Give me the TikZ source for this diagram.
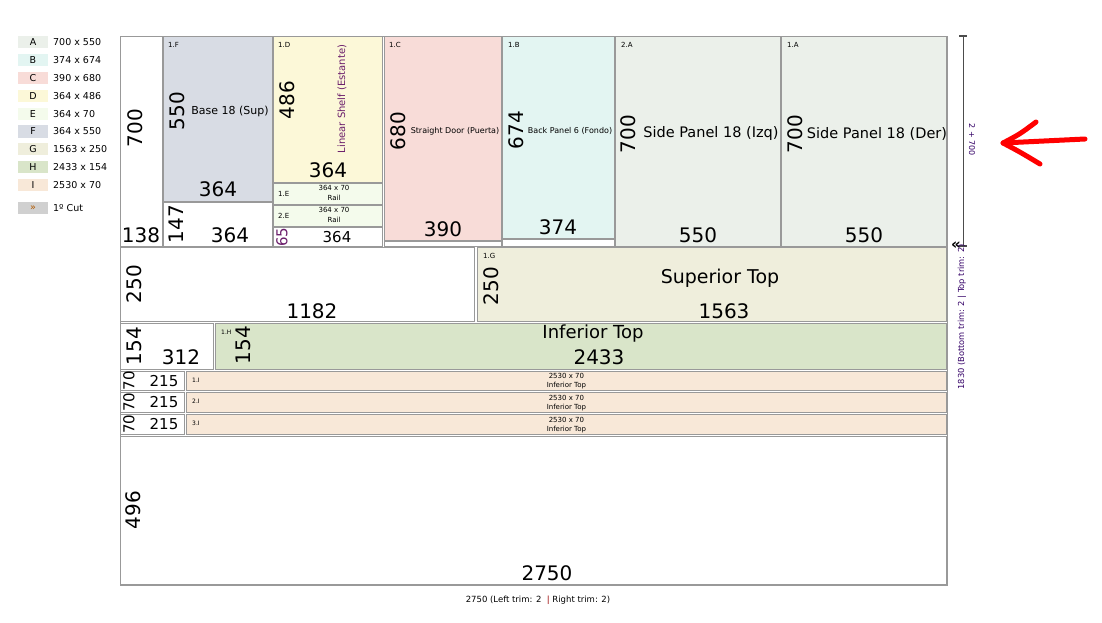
\documentclass[tikz,border=0pt]{standalone}
\usepackage{fontspec}
\setmainfont{DejaVu Sans}
\usepackage{xcolor}
\usetikzlibrary{positioning}

\definecolor{colA}{HTML}{EBF0EA}
\definecolor{colB}{HTML}{E3F5F2}
\definecolor{colC}{HTML}{F8DCD8}
\definecolor{colD}{HTML}{FCF8D8}
\definecolor{colE}{HTML}{F4FBEC}
\definecolor{colF}{HTML}{D8DCE4}
\definecolor{colG}{HTML}{EFEEDC}
\definecolor{colH}{HTML}{D9E5C9}
\definecolor{colI}{HTML}{F8E8D8}
\definecolor{cutgray}{HTML}{D0D0D0}
\definecolor{dimtext}{HTML}{330066}
\definecolor{shelf}{HTML}{6B1E6B}

\newcommand{\fs}[1]{\fontsize{#1}{#1}\selectfont}

\tikzset{
  piece/.style={draw=black!40,line width=0.8pt,anchor=north west,inner sep=0pt,fill=white},
  tag/.style={font=\fs{7},anchor=west,inner sep=0pt},
  big/.style={font=\fs{20},inner sep=0pt},
  mid/.style={font=\fs{15},inner sep=0pt},
  small/.style={font=\fs{7},inner sep=0pt,align=center},
  keybox/.style={minimum width=30pt,minimum height=12pt,inner sep=0pt,font=\fs{9.5}},
  keytext/.style={font=\fs{9.5},anchor=west,inner sep=0pt}
}

\begin{document}
\begin{tikzpicture}[x=1pt,y=-1pt]
  \useasboundingbox (0,0) rectangle (1102,623);

  % legend
  \foreach \l/\c/\t [count=\i] in {A/colA/700 x 550,B/colB/374 x 674,C/colC/390 x 680,
      D/colD/364 x 486,E/colE/364 x 70,F/colF/364 x 550,G/colG/1563 x 250,
      H/colH/2433 x 154,I/colI/2530 x 70}{
    \pgfmathsetmacro{\yy}{42+(\i-1)*17.9}
    \node[keybox,fill=\c] (key\l) at (33,\yy) {\l};
    \node[keytext] (keyt\l) at (53,\yy) {\t};
  }
  \node[keybox,fill=cutgray,text=orange!70!black] (keycut) at (33,208) {»};
  \node[keytext] (keytcut) at (53,208) {1º Cut};

  % sheet
  \node[piece,minimum width=827pt,minimum height=549pt,fill=none] (sheet) at (120,36) {};

  % first strip
  \node[piece,minimum width=42pt,minimum height=210pt] (w700) at (120,36) {};
  \node[piece,fill=colF,minimum width=109pt,minimum height=165pt] (F1) at (163,36) {};
  \node[piece,minimum width=109pt,minimum height=44pt] (w147) at (163,202) {};
  \node[piece,fill=colD,minimum width=109pt,minimum height=146pt] (D1) at (273,36) {};
  \node[piece,fill=colE,minimum width=109pt,minimum height=21pt] (E1) at (273,183) {};
  \node[piece,fill=colE,minimum width=109pt,minimum height=21pt] (E2) at (273,205) {};
  \node[piece,minimum width=109pt,minimum height=19pt] (w65) at (273,227) {};
  \node[piece,fill=colC,minimum width=117pt,minimum height=204pt] (C1) at (384,36) {};
  \node[piece,minimum width=117pt,minimum height=5pt] (wC) at (384,241) {};
  \node[piece,fill=colB,minimum width=112pt,minimum height=202pt] (B1) at (502,36) {};
  \node[piece,minimum width=112pt,minimum height=7pt] (wB) at (502,239) {};
  \node[piece,fill=colA,minimum width=165pt,minimum height=210pt] (A2) at (615,36) {};
  \node[piece,fill=colA,minimum width=165pt,minimum height=210pt] (A1) at (781,36) {};

  % second strip
  \node[piece,minimum width=354pt,minimum height=74pt] (w250) at (120,247) {};
  \node[piece,fill=colG,minimum width=469pt,minimum height=74pt] (G1) at (477,247) {};

  % third strip
  \node[piece,minimum width=93pt,minimum height=46pt] (w154) at (120,323) {};
  \node[piece,fill=colH,minimum width=731pt,minimum height=46pt] (H1) at (215,323) {};

  % rails
  \foreach \n/\y/\h in {1/371/19,2/392/20,3/414/20}{
    \node[piece,minimum width=64pt,minimum height=\h pt] (w70\n) at (120,\y) {};
    \node[piece,fill=colI,minimum width=760pt,minimum height=\h pt] (I\n) at (186,\y) {};
    \node[mid,rotate=90] at ([xshift=9pt]w70\n.west) {70};
    \node[mid] at ([xshift=44pt]w70\n.west) {215};
    \node[tag,font=\fs{6}] at ([xshift=6pt,yshift=1pt]I\n.west) {\n.I};
    \node[small] at ([yshift=4.5pt]I\n.center) {2530 x 70};
    \node[small] at ([yshift=-5pt]I\n.center) {Inferior Top};
  }

  % waste
  \node[piece,minimum width=826pt,minimum height=148pt] (w496) at (120,436) {};

  % labels
  \node[big,rotate=90] at (135,128) {700};
  \node[big] at (141,235) {138};

  \node[tag] at (168,45) {1.F};
  \node[big,rotate=90] at (177,111) {550};
  \node[font=\fs{11},inner sep=0pt] at (230,111) {Base 18 (Sup)};
  \node[big] at (218,189) {364};
  \node[big,rotate=90] at (176,224) {147};
  \node[big] at (230,235) {364};

  \node[tag] at (278,45) {1.D};
  \node[big,rotate=90] at (287,100) {486};
  \node[font=\fs{10},inner sep=0pt,rotate=90,text=shelf] at (342,99) {Linear Shelf (Estante)};
  \node[big] at (328,170) {364};
  \node[tag] at (278,193.5) {1.E};
  \node[small] at (334,188) {364 x 70};
  \node[small] at (334,198) {Rail};
  \node[tag] at (278,215.5) {2.E};
  \node[small] at (334,210) {364 x 70};
  \node[small] at (334,220) {Rail};
  \node[mid,rotate=90,text=shelf] at (282,237) {65};
  \node[mid] at (337,237) {364};

  \node[tag] at (389,45) {1.C};
  \node[big,rotate=90] at (398,131) {680};
  \node[font=\fs{8},inner sep=0pt] at (455,131) {Straight Door (Puerta)};
  \node[big] at (443,229) {390};

  \node[tag] at (508,45) {1.B};
  \node[big,rotate=90] at (516,130) {674};
  \node[font=\fs{8},inner sep=0pt] at (570,131) {Back Panel 6 (Fondo)};
  \node[big] at (558,227) {374};

  \node[tag] at (621,45) {2.A};
  \node[big,rotate=90] at (628,134) {700};
  \node[font=\fs{14.5},inner sep=0pt] at (711,134) {Side Panel 18 (Izq)};
  \node[big] at (698,235) {550};

  \node[tag] at (787,45) {1.A};
  \node[big,rotate=90] at (795,134) {700};
  \node[font=\fs{14.5},inner sep=0pt] at (877,134) {Side Panel 18 (Der)};
  \node[big] at (864,235) {550};

  \node[big,rotate=90] at (134,284) {250};
  \node[big] at (312,311) {1182};
  \node[tag] at (483,256) {1.G};
  \node[big,rotate=90] at (491,286) {250};
  \node[font=\fs{19},inner sep=0pt] at (720,278) {Superior Top};
  \node[big] at (724,311) {1563};

  \node[big,rotate=90] at (134,346) {154};
  \node[big] at (181,357) {312};
  \node[tag,font=\fs{6}] at (221,332) {1.H};
  \node[big,rotate=90] at (243,345) {154};
  \node[font=\fs{18},inner sep=0pt] at (593,334) {Inferior Top};
  \node[big] at (599,357) {2433};

  \node[big,rotate=90] at (133,510) {496};
  \node[big] at (547,573) {2750};

  % dimensions
  \coordinate (dimtop) at (963,36);
  \coordinate (dimbot) at (963,246);
  \draw[black!70,line width=1pt] (dimtop) -- (dimbot);
  \draw[black!70,line width=1.5pt] ([xshift=-4pt]dimtop) -- ([xshift=4pt]dimtop);
  \draw[black!70,line width=1.5pt] ([xshift=-4pt]dimbot) -- ([xshift=4pt]dimbot);
  \node[font=\bfseries\fs{15},inner sep=0pt,text=black] (cutmark) at (956,246) {«};
  \node[font=\fs{8},inner sep=0pt,rotate=-90,text=dimtext] at (972,140) {2 + 700};
  \node[font=\fs{8.3},inner sep=0pt,rotate=90,text=dimtext,anchor=east] at (962,244) {1830 (Bottom trim: 2 | Top trim: 2)};
  \node[font=\fs{8.5},inner sep=0pt] at (538,600) {2750 (Left trim: 2 \ {\color{red!60!black}|} Right trim: 2)};

  % red arrow
  \coordinate (tip) at (1003,143);
  \coordinate (tail) at (1085,139);
  \coordinate (wingup) at (1036,122);
  \coordinate (wingdn) at (1040,164);
  \draw[red,line width=5pt,line cap=round,line join=round] (tail) -- (tip);
  \draw[red,line width=5pt,line cap=round,line join=round]
    (wingup) .. controls (1020,134) .. (tip) .. controls (1020,152) .. (wingdn);
\end{tikzpicture}
\end{document}
